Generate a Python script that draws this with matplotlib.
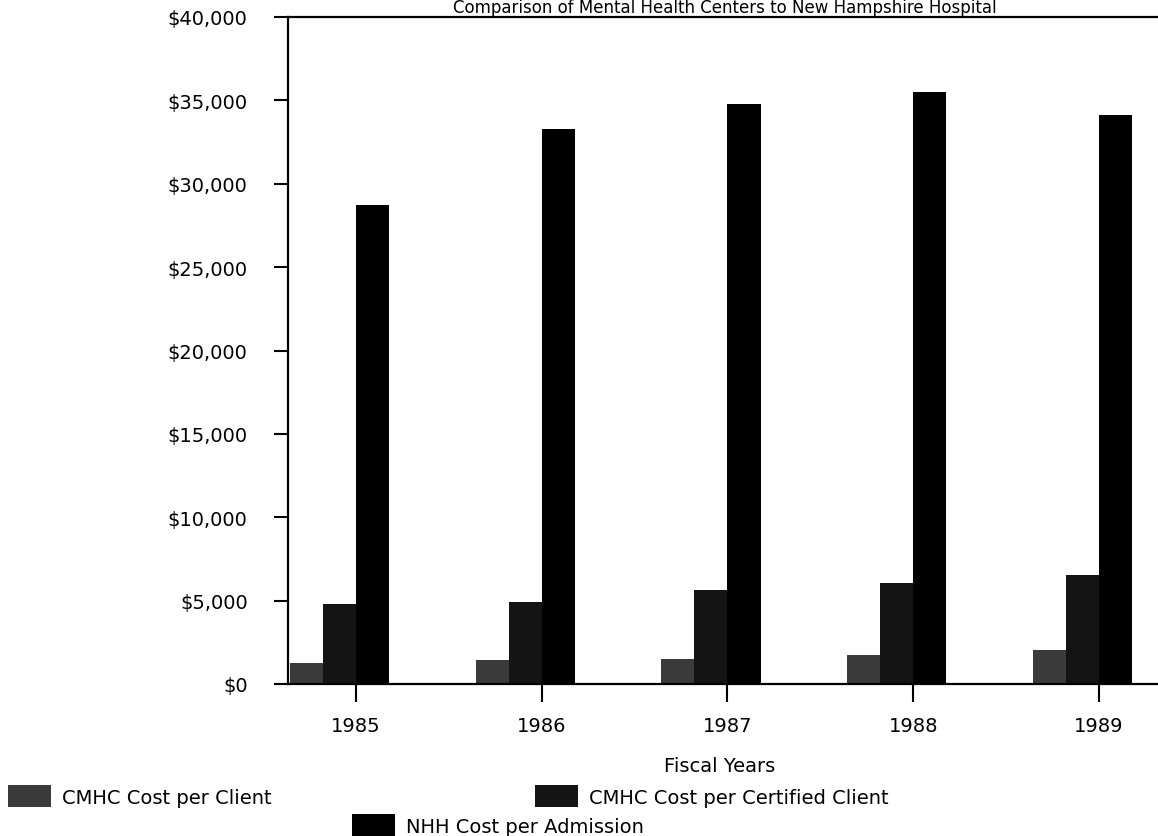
import matplotlib
matplotlib.use("Agg")
import matplotlib.pyplot as plt
import numpy as np
from matplotlib.ticker import FuncFormatter

years = ["1985", "1986", "1987", "1988", "1989"]
cmhc_client = [1260, 1440, 1500, 1750, 2040]
cmhc_certified = [4800, 4920, 5650, 6070, 6550]
nhh_admission = [28700, 33270, 34770, 35500, 34110]
labels = ["CMHC Cost per Client", "CMHC Cost per Certified Client", "NHH Cost per Admission"]
title = "Comparison of Mental Health Centers to New Hampshire Hospital"

plt.rcParams["font.family"] = "DejaVu Sans"

fig = plt.figure(figsize=(11.58, 8.37), dpi=100)
ax = fig.add_axes([288 / 1158, 1 - 685 / 837, 1 - 288 / 1158, (685 - 18) / 837])

x = np.arange(len(years))
w = 0.178
b1 = ax.bar(x - 1.5 * w, cmhc_client, w, color="#3a3a3a")
b2 = ax.bar(x - 0.5 * w, cmhc_certified, w, color="#141414")
b3 = ax.bar(x + 0.5 * w, nhh_admission, w, color="#000000")

ax.set_xlim(-0.366, 4.318)
ax.set_ylim(0, 40000)
ax.set_yticks(np.arange(0, 40001, 5000))
ax.yaxis.set_major_formatter(FuncFormatter(lambda v, p: "${:,.0f}".format(v)))
ax.set_xticks(x)
ax.set_xticklabels(years)
ax.tick_params(axis="y", length=10, width=1.5, pad=19, labelsize=14)
ax.tick_params(axis="x", length=13, width=1.5, pad=10, labelsize=14)
for s in ["left", "bottom", "top"]:
    ax.spines[s].set_linewidth(1.6)
ax.spines["right"].set_visible(False)

# title sits in the thin strip above the top spine
fig.text(725 / 1158, 1 - 8 / 837, title, ha="center", va="center", fontsize=12)
fig.text(720 / 1158, 1 - 767 / 837, "Fiscal Years", ha="center", va="center", fontsize=14)

leg_kw = dict(frameon=False, fontsize=14, handlelength=2.2, handleheight=1.3,
              handletextpad=0.6, borderpad=0, borderaxespad=0, loc="center left")
fig.legend([b1], [labels[0]], bbox_to_anchor=(8 / 1158, 1 - 797 / 837), **leg_kw)
fig.legend([b2], [labels[1]], bbox_to_anchor=(535 / 1158, 1 - 797 / 837), **leg_kw)
fig.legend([b3], [labels[2]], bbox_to_anchor=(352 / 1158, 1 - 826 / 837), **leg_kw)

fig.savefig("out.png", dpi=100)
